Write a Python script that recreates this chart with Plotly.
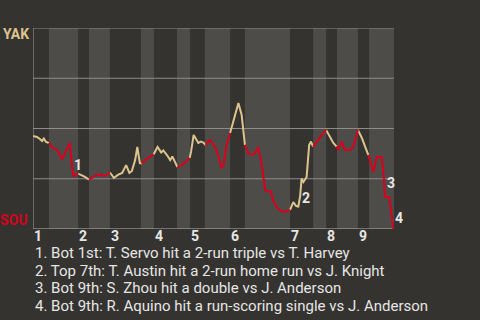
import plotly.graph_objects as go
from bisect import bisect_right

# ---- data ----
# game progress (0-100) and YAK win probability (%)
progress = [0, 1.1, 1.9, 2.5, 3.0, 3.6, 4.4,
            5.5, 6.5, 7.2, 8.0, 9.1, 10.2, 10.8, 11.2, 11.9, 12.5,
            13.4, 14.4, 15.5,
            16.6, 17.7, 18.6, 19.5, 20.4, 21.3,
            22.4, 23.5, 24.7, 25.8, 26.7, 27.4, 28.3, 28.9, 29.6, 30.1,
            31.4, 33.4,
            34.5, 35.5, 36.1, 37.1, 38.0, 38.6, 39.2, 40.0,
            41.6, 43.4,
            43.8, 44.5, 45.2, 45.8, 46.5, 47.2, 47.8,
            49.0, 49.9, 50.8, 51.5, 52.2, 52.8, 53.6, 54.6,
            55.4, 56.9, 57.8, 58.7,
            59.6, 60.6, 61.5, 62.4, 63.4, 64.3, 65.1, 65.9, 66.6, 67.7, 68.9, 70.3, 71.2,
            72.1, 72.9, 73.5, 74.0, 74.4, 74.9, 75.8, 76.5, 77.0, 77.6,
            78.6, 80.0, 81.2,
            82.3, 83.2, 84.1,
            84.6, 85.5, 86.4, 87.8, 88.7, 90.0,
            91.1, 92.0, 92.9,
            93.8, 94.3, 95.2, 96.6, 97.2, 97.5, 98.7, 99.8]
win_prob = [46.3, 45.8, 44.8, 43.8, 45.0, 43.3, 42.8,
            40.3, 39.6, 37.8, 34.6, 38.8, 42.8, 31.3, 26.1, 27.1, 27.6,
            26.9, 25.9, 24.6,
            25.6, 26.9, 27.1, 26.4, 26.9, 28.1,
            25.4, 26.9, 27.9, 31.8, 27.9, 28.9, 34.3, 40.8, 32.8, 32.6,
            34.8, 37.1,
            40.8, 38.1, 39.1, 36.8, 34.3, 36.1, 33.6, 30.8,
            32.3, 35.3,
            38.6, 46.8, 44.3, 42.8, 43.5, 43.0, 41.8,
            44.3, 42.3, 39.3, 35.3, 30.3, 31.8, 41.8, 47.8,
            52.7, 62.7, 56.7, 41.8,
            37.8, 36.8, 37.8, 40.8, 31.8, 19.4, 18.7, 18.7, 13.7, 10.4, 8.7, 8.7, 9.5,
            13.4, 11.4, 11.2, 16.4, 25.1, 23.4, 25.9, 41.8, 43.5, 41.0,
            43.5, 46.8, 49.3,
            46.0, 42.8, 41.0,
            39.3, 43.5, 39.3, 39.3, 40.8, 49.3,
            45.3, 41.0, 36.8,
            31.8, 28.4, 35.8, 35.8, 25.1, 15.9, 15.9, 0.0]

# start of each half-inning (top 1, bot 1, ..., bot 9) plus game end
half_starts = [0, 4.4, 12.5, 15.5, 21.3, 29.9, 33.5, 39.9, 43.5, 47.6,
               54.6, 58.7, 71.2, 77.6, 81.2, 84.2, 90.0, 93.1, 100]
inning_labels = ["1", "2", "3", "4", "5", "6", "7", "8", "9"]

event_labels = ["1", "2", "3", "4"]
event_x = [12.5, 75.6, 99.2, 100]
event_y = [31.8, 15.4, 22.9, 5.5]
event_texts = [
    "1. Bot 1st: T. Servo hit a 2-run triple vs T. Harvey",
    "2. Top 7th: T. Austin hit a 2-run home run vs J. Knight",
    "3. Bot 9th: S. Zhou hit a double vs J. Anderson",
    "4. Bot 9th: R. Aquino hit a run-scoring single vs J. Anderson",
]
teams = ["YAK", "SOU"]

# ---- style ----
BG = "#353330"
BAND = "#4d4c49"
GRID = "#8c8c8c"
TAN = "#dcc48e"
RED = "#d8001c"
TEXT = "#e6e6e6"
FONT = "Roboto"

# build colored segments: top halves tan, bottom halves red
segs = {0: ([], []), 1: ([], [])}
prev = None
for i in range(len(progress) - 1):
    mid = (progress[i] + progress[i + 1]) / 2
    c = (bisect_right(half_starts, mid) - 1) % 2
    xs, ys = segs[c]
    if c != prev:
        if xs:
            xs.append(None)
            ys.append(None)
        xs.append(progress[i])
        ys.append(win_prob[i])
    xs.append(progress[i + 1])
    ys.append(win_prob[i + 1])
    prev = c

fig = go.Figure()
for c, col in [(0, TAN), (1, RED)]:
    fig.add_trace(go.Scatter(x=segs[c][0], y=segs[c][1], mode="lines",
                             line=dict(color=col, width=2),
                             hoverinfo="skip", showlegend=False))

shapes = []
for h in range(len(half_starts) - 1):
    if h % 2 == 1:
        shapes.append(dict(type="rect", xref="x", yref="y",
                           x0=half_starts[h], x1=half_starts[h + 1], y0=0, y1=100,
                           fillcolor=BAND, line=dict(width=0), layer="below"))
for gy in [25, 50, 75, 100]:
    shapes.append(dict(type="line", xref="x", yref="y", x0=0, x1=100, y0=gy, y1=gy,
                       line=dict(color=GRID, width=1), layer="below"))
shapes.append(dict(type="line", xref="x", yref="y", x0=0, x1=100, y0=0, y1=0,
                   line=dict(color="#b4b4b4", width=1), layer="below"))
shapes.append(dict(type="line", xref="x", yref="y", x0=0, x1=0, y0=0, y1=100,
                   line=dict(color="#a0a0a0", width=1), layer="below"))

ann = []
inning_starts = half_starts[0:18:2]
for lab, xs in zip(inning_labels, inning_starts):
    ann.append(dict(x=xs, y=0, xref="x", yref="y", text=lab, showarrow=False,
                    xanchor="left", yanchor="top", xshift=-1, yshift=3,
                    font=dict(family=FONT, size=14, color=TEXT, weight="bold")))
for k, (lab, ex, ey) in enumerate(zip(event_labels, event_x, event_y)):
    ann.append(dict(x=ex, y=ey, xref="x", yref="y", text=lab, showarrow=False,
                    xanchor="center", yanchor="middle",
                    xshift=5 if k == 3 else 0,
                    font=dict(family=FONT, size=14, color=TEXT, weight="bold")))
for k, t in enumerate(event_texts):
    ann.append(dict(x=0, y=0, xref="x", yref="y", text=t, showarrow=False,
                    xanchor="left", yanchor="middle", xshift=0, yshift=-24 - 17.7 * k,
                    font=dict(family=FONT, size=15, color=TEXT)))
ann.append(dict(x=0, y=97, xref="x", yref="y", text=teams[0], showarrow=False,
                xanchor="right", yanchor="middle", xshift=-2,
                font=dict(family=FONT, size=14, color=TAN, weight="bold")))
ann.append(dict(x=0, y=4.5, xref="x", yref="y", text=teams[1], showarrow=False,
                xanchor="right", yanchor="middle", xshift=-3,
                font=dict(family=FONT, size=14, color=RED, weight="bold")))

fig.update_layout(
    width=480, height=320,
    margin=dict(l=33, r=86, t=28, b=91),
    paper_bgcolor=BG, plot_bgcolor=BG,
    shapes=shapes, annotations=ann,
    xaxis=dict(range=[0, 100], visible=False, fixedrange=True),
    yaxis=dict(range=[0, 100], visible=False, fixedrange=True),
    showlegend=False,
)
fig.write_html("out.html", config={"displayModeBar": False})
